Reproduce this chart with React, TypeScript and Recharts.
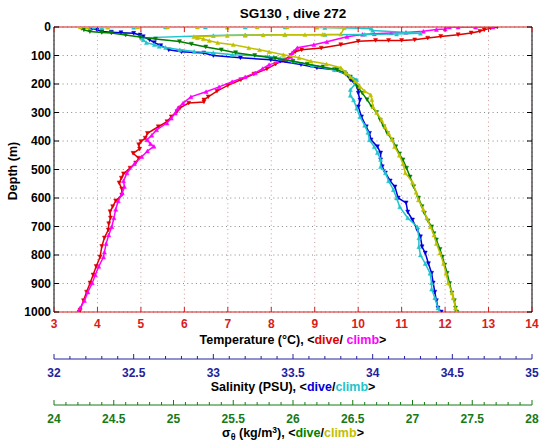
import React from 'react'
import { ScatterChart, Scatter, XAxis, YAxis, CartesianGrid } from 'recharts'

const FONT = '"Liberation Sans", Arial, Helvetica, sans-serif'
const T_AXIS = '#d81c1c'
const S_AXIS = '#22229a'
const G_AXIS = '#177a17'

const C_RED = '#e00000'
const C_MAGENTA = '#ff00ff'
const C_BLUE = '#0000dd'
const C_CYAN = '#22c4cc'
const C_GREEN = '#007f00'
const C_YELLOW = '#c0c000'

// axis ids: bottom axes are stacked outward in id order
const AX_T = 'ax1'
const AX_S = 'ax2'
const AX_G = 'ax3'

const depthTicks = [0, 100, 200, 300, 400, 500, 600, 700, 800, 900, 1000]
const tempTicks = [3, 4, 5, 6, 7, 8, 9, 10, 11, 12, 13, 14]
const salinityTicks = [32, 32.5, 33, 33.5, 34, 34.5, 35]
const sigmaTicks = [24, 24.5, 25, 25.5, 26, 26.5, 27, 27.5, 28]

// [depth m, value]
const tempDive: [number, number][] = [
  [0, 13.2], [4, 13.05], [10, 12.9], [15, 12.8], [21, 12.6], [27, 12.3], [33, 11.9], [39, 11.6],
  [45, 11.3], [47, 11.0], [47, 10.7], [47, 10.4], [50, 10.0], [62, 9.6], [74, 9.15], [80, 8.7],
  [87, 8.55], [100, 8.45], [115, 8.3], [130, 8.1], [147, 7.9], [165, 7.6], [185, 7.3], [205, 7.0],
  [225, 6.75], [245, 6.55], [256, 6.45], [263, 6.45], [267, 6.1], [284, 5.9], [297, 5.83],
  [315, 5.7], [332, 5.6], [350, 5.4], [373, 5.15], [390, 5.1], [402, 5.0], [413, 4.95],
  [428, 4.97], [443, 4.82], [460, 4.95], [477, 4.88], [495, 4.75], [515, 4.6], [530, 4.55],
  [547, 4.5], [568, 4.56], [589, 4.56], [610, 4.42], [630, 4.35], [648, 4.29], [670, 4.3],
  [690, 4.26], [712, 4.25], [740, 4.16], [770, 4.1], [807, 4.06], [840, 3.97], [870, 3.9],
  [898, 3.83], [930, 3.75], [960, 3.68], [993, 3.6], [1000, 3.58],
]

const tempClimb: [number, number][] = [
  [0, 13.1], [0, 12.7], [0, 12.3], [0, 12.1], [7, 12.0], [9, 11.8], [15, 11.5], [19, 11.1],
  [21, 10.76], [24, 10.37], [26, 10.1], [34, 9.74], [52, 9.28], [62, 8.98], [73, 8.6], [90, 8.48],
  [104, 8.45], [118, 8.35], [132, 7.95], [146, 7.8], [161, 7.63], [175, 7.4], [192, 7.1],
  [210, 6.8], [227, 6.5], [245, 6.15], [267, 5.97], [285, 5.85], [302, 5.79], [320, 5.7],
  [337, 5.6], [361, 5.36], [380, 5.25], [396, 5.14], [410, 5.22], [419, 5.3], [435, 5.15],
  [455, 5.02], [480, 4.85], [512, 4.68], [540, 4.6], [560, 4.62], [583, 4.57], [610, 4.48],
  [640, 4.42], [670, 4.38], [701, 4.33], [730, 4.26], [760, 4.2], [790, 4.16], [807, 4.14],
  [840, 4.03], [870, 3.95], [898, 3.88], [930, 3.78], [960, 3.7], [986, 3.6], [1000, 3.56],
]

const salDive: [number, number][] = [
  [0, 32.22], [5, 32.24], [10, 32.27], [16, 32.3], [18, 32.36], [20, 32.42], [22, 32.5],
  [28, 32.54], [34, 32.56], [45, 32.6], [55, 32.63], [65, 32.67], [80, 32.72], [87, 32.8],
  [91, 32.94], [100, 33.0], [108, 33.17], [115, 33.36], [120, 33.42], [132, 33.55], [143, 33.65],
  [150, 33.76], [165, 33.83], [185, 33.86], [200, 33.89], [220, 33.91], [232, 33.91], [256, 33.92],
  [280, 33.91], [315, 33.93], [350, 33.96], [373, 33.98], [396, 33.99], [420, 34.03], [442, 34.05],
  [466, 34.05], [490, 34.06], [512, 34.08], [540, 34.11], [561, 34.14], [600, 34.16], [617, 34.21],
  [649, 34.22], [677, 34.25], [712, 34.28], [736, 34.3], [771, 34.31], [793, 34.33], [830, 34.35],
  [864, 34.37], [898, 34.38], [930, 34.39], [960, 34.4], [986, 34.41], [1000, 34.43],
]

const salClimb: [number, number][] = [
  [1000, 34.42], [986, 34.41], [950, 34.39], [920, 34.37], [898, 34.37], [864, 34.36], [830, 34.33],
  [800, 34.3], [771, 34.29], [740, 34.29], [701, 34.28], [670, 34.22], [631, 34.17], [600, 34.15],
  [571, 34.13], [540, 34.1], [512, 34.08], [490, 34.05], [465, 34.05], [441, 34.03], [420, 34.01],
  [396, 33.98], [370, 33.97], [345, 33.95], [315, 33.92], [285, 33.9], [256, 33.88], [240, 33.86],
  [220, 33.86], [200, 33.89], [185, 33.9], [165, 33.84], [150, 33.76], [135, 33.62], [120, 33.5],
  [110, 33.42], [103, 33.34], [97, 33.12], [90, 33.0], [86, 32.88], [80, 32.79], [72, 32.7],
  [68, 32.66], [62, 32.63], [55, 32.58], [45, 32.56], [38, 32.55],
  [30, 33.0], [28, 33.2], [27, 33.45], [27, 33.7], [26, 33.95], [25, 34.15], [22, 34.3],
  [12, 34.0], [5, 33.99], [2, 33.7], [0, 33.45], [0, 33.2], [0, 32.95], [0, 32.7], [1, 32.5],
  [2, 32.3], [0, 32.25],
]

const sigDive: [number, number][] = [
  [0, 24.22], [5, 24.23], [10, 24.25], [16, 24.3], [19, 24.4], [21, 24.48], [28, 24.6], [35, 24.72],
  [42, 24.85], [51, 25.05], [60, 25.15], [70, 25.27], [80, 25.4], [90, 25.52], [100, 25.68],
  [110, 25.85], [120, 26.0], [130, 26.12], [140, 26.25], [150, 26.37], [160, 26.43], [175, 26.48],
  [190, 26.51], [209, 26.54], [232, 26.58], [255, 26.62], [280, 26.66], [300, 26.7], [326, 26.73],
  [350, 26.76], [373, 26.79], [396, 26.83], [420, 26.86], [445, 26.89], [466, 26.92], [495, 26.95],
  [526, 26.98], [560, 27.01], [600, 27.05], [630, 27.08], [653, 27.1], [680, 27.13], [701, 27.16],
  [725, 27.18], [747, 27.2], [780, 27.23], [807, 27.25], [835, 27.27], [864, 27.29], [900, 27.31],
  [933, 27.33], [960, 27.35], [986, 27.36], [1000, 27.37],
]

const sigClimb: [number, number][] = [
  [1000, 27.37], [986, 27.36], [950, 27.34], [933, 27.33], [898, 27.3], [864, 27.28], [830, 27.26],
  [793, 27.23], [760, 27.2], [730, 27.18], [701, 27.15], [670, 27.12], [640, 27.09], [607, 27.05],
  [580, 27.03], [545, 27.0], [512, 26.94], [480, 26.92], [450, 26.89], [420, 26.85], [395, 26.83],
  [373, 26.8], [350, 26.77], [326, 26.74], [300, 26.7], [280, 26.67], [255, 26.66], [238, 26.65],
  [225, 26.6], [209, 26.56], [190, 26.52], [175, 26.48], [160, 26.44], [143, 26.4], [130, 26.28],
  [120, 26.15], [108, 26.05], [97, 25.92], [87, 25.8], [80, 25.72], [73, 25.63], [62, 25.5],
  [55, 25.37], [48, 25.3], [42, 25.25], [38, 25.2], [34, 25.17],
  [30, 25.45], [29, 25.6], [28, 25.75], [27, 25.93], [27, 26.1], [26, 26.25], [25, 26.4],
  [3, 26.43], [1, 26.2], [0, 25.95], [0, 25.7], [1, 25.45], [0, 25.2], [0, 24.95], [0, 24.7],
  [1, 24.45], [0, 24.28], [0, 24.22],
]

const toPoints = (rows: [number, number][]) => rows.map(([d, v]) => ({ d, v }))

// tick positions every 0.1 between the labelled ones
const withMinor = (major: number[]) => {
  const out: number[] = []
  for (let i = 0; i < major.length - 1; i++) {
    for (let k = 0; k < 5; k++) out.push(+(major[i] + k * 0.1).toFixed(1))
  }
  out.push(major[major.length - 1])
  return out
}

const isMajor = (v: number, major: number[]) => major.some((m) => Math.abs(m - v) < 1e-6)

const txt = { fontFamily: FONT, fontWeight: 'bold' as const }

function BottomTick({ x, y, payload, color, major, labelDy }: any) {
  const big = isMajor(payload.value, major)
  return (
    <g>
      <line x1={x} x2={x} y1={y} y2={y - (big ? 5 : 3)} stroke={color} strokeWidth={1} />
      {big && (
        <text x={x} y={y + labelDy} textAnchor="middle" fill={color} fontSize={12} {...txt}>
          {payload.value}
        </text>
      )}
    </g>
  )
}

function Tri({ cx, cy, color, down }: any) {
  if (cx == null || cy == null) return null
  const w = 2
  const h = 1.9
  const pts = down
    ? `${cx - w},${cy - h} ${cx + w},${cy - h} ${cx},${cy + h}`
    : `${cx - w},${cy + h} ${cx + w},${cy + h} ${cx},${cy - h}`
  return <polygon points={pts} fill={color} stroke={color} strokeWidth={0.5} />
}

const series = [
  { name: 'tdive', axis: AX_T, rows: tempDive, color: C_RED, down: true },
  { name: 'tclimb', axis: AX_T, rows: tempClimb, color: C_MAGENTA, down: false },
  { name: 'sdive', axis: AX_S, rows: salDive, color: C_BLUE, down: true },
  { name: 'sclimb', axis: AX_S, rows: salClimb, color: C_CYAN, down: false },
  { name: 'gdive', axis: AX_G, rows: sigDive, color: C_GREEN, down: true },
  { name: 'gclimb', axis: AX_G, rows: sigClimb, color: C_YELLOW, down: false },
]

export default function App() {
  return (
    <div style={{ position: 'absolute', left: 0, top: 0, background: '#fff' }}>
      <ScatterChart width={543} height={442} margin={{ top: 0, right: 0, bottom: 0, left: 0 }}>
        <CartesianGrid
          xAxisId={AX_T}
          yAxisId="dep"
          horizontal={false}
          stroke="#c99"
          strokeDasharray="1 3.3"
        />
        <CartesianGrid
          xAxisId={AX_T}
          yAxisId="dep"
          vertical={false}
          stroke="#888"
          strokeDasharray="1 3.3"
        />
        <XAxis
          xAxisId="top"
          orientation="top"
          type="number"
          dataKey="v"
          domain={[3, 14]}
          allowDataOverflow
          ticks={tempTicks}
          interval={0}
          height={27}
          tickSize={0}
          tickMargin={0}
          tickLine={false}
          axisLine={{ stroke: T_AXIS }}
          tick={(p: any) => (
            <line x1={p.x} x2={p.x} y1={p.y} y2={p.y + 5} stroke={T_AXIS} />
          )}
          label={{
            content: (p: any) => (
              <text
                x={p.viewBox.x + p.viewBox.width / 2}
                y={p.viewBox.y + 17.5}
                textAnchor="middle"
                fill="#000"
                fontSize={13.5}
                {...txt}
              >
                SG130 , dive 272
              </text>
            ),
          }}
        />
        <XAxis
          xAxisId={AX_T}
          type="number"
          dataKey="v"
          domain={[3, 14]}
          allowDataOverflow
          ticks={tempTicks}
          interval={0}
          height={47}
          tickSize={0}
          tickMargin={0}
          tickLine={false}
          axisLine={{ stroke: T_AXIS }}
          tick={(p: any) => <BottomTick {...p} color={T_AXIS} major={tempTicks} labelDy={16} />}
          label={{
            content: (p: any) => (
              <text
                x={p.viewBox.x + p.viewBox.width / 2}
                y={p.viewBox.y + 31.5}
                textAnchor="middle"
                fill="#000"
                fontSize={12.5}
                {...txt}
              >
                Temperature (°C), &lt;<tspan fill={C_RED}>dive</tspan>/ <tspan fill={C_MAGENTA}>climb</tspan>&gt;
              </text>
            ),
          }}
        />
        <XAxis
          xAxisId={AX_S}
          type="number"
          dataKey="v"
          domain={[32, 35]}
          allowDataOverflow
          ticks={withMinor(salinityTicks)}
          interval={0}
          height={46}
          tickSize={0}
          tickMargin={0}
          tickLine={false}
          axisLine={{ stroke: S_AXIS }}
          tick={(p: any) => <BottomTick {...p} color={S_AXIS} major={salinityTicks} labelDy={17.5} />}
          label={{
            content: (p: any) => (
              <text
                x={p.viewBox.x + p.viewBox.width / 2}
                y={p.viewBox.y + 32}
                textAnchor="middle"
                fill="#000"
                fontSize={12.5}
                {...txt}
              >
                Salinity (PSU), &lt;<tspan fill={C_BLUE}>dive</tspan>/<tspan fill={C_CYAN}>climb</tspan>&gt;
              </text>
            ),
          }}
        />
        <XAxis
          xAxisId={AX_G}
          type="number"
          dataKey="v"
          domain={[24, 28]}
          allowDataOverflow
          ticks={withMinor(sigmaTicks)}
          interval={0}
          height={37}
          tickSize={0}
          tickMargin={0}
          tickLine={false}
          axisLine={{ stroke: G_AXIS }}
          tick={(p: any) => <BottomTick {...p} color={G_AXIS} major={sigmaTicks} labelDy={18} />}
          label={{
            content: (p: any) => (
              <text
                x={p.viewBox.x + p.viewBox.width / 2}
                y={p.viewBox.y + 32}
                textAnchor="middle"
                fill="#000"
                fontSize={12.5}
                {...txt}
              >
                σ<tspan dy={3} fontSize={9}>θ</tspan>
                <tspan dy={-3}> (kg/m</tspan>
                <tspan dy={-4} fontSize={8.5}>3</tspan>
                <tspan dy={4}>), &lt;</tspan>
                <tspan fill={C_GREEN}>dive</tspan>/<tspan fill={C_YELLOW}>climb</tspan>&gt;
              </text>
            ),
          }}
        />
        <YAxis
          yAxisId="dep"
          type="number"
          dataKey="d"
          domain={[0, 1000]}
          allowDataOverflow
          reversed
          ticks={depthTicks}
          interval={0}
          width={54}
          tickSize={0}
          tickMargin={0}
          tickLine={false}
          axisLine={{ stroke: '#000' }}
          tick={(p: any) => (
            <g>
              <line x1={p.x} x2={p.x + 5} y1={p.y} y2={p.y} stroke="#000" />
              <text x={p.x - 3} y={p.y + 4.3} textAnchor="end" fill="#000" fontSize={12} {...txt}>
                {p.payload.value}
              </text>
            </g>
          )}
          label={{
            content: () => (
              <text
                x={16.5}
                y={171}
                transform="rotate(-90, 16.5, 171)"
                textAnchor="middle"
                fill="#000"
                fontSize={12.5}
                {...txt}
              >
                Depth (m)
              </text>
            ),
          }}
        />
        <YAxis
          yAxisId="r"
          orientation="right"
          type="number"
          dataKey="d"
          domain={[0, 1000]}
          allowDataOverflow
          reversed
          ticks={depthTicks}
          interval={0}
          width={11}
          tickSize={0}
          tickMargin={0}
          tickLine={false}
          axisLine={{ stroke: '#000' }}
          tick={(p: any) => <line x1={p.x - 5} x2={p.x} y1={p.y} y2={p.y} stroke="#000" />}
        />
        {series.map((s) => (
          <Scatter
            key={s.name}
            name={s.name}
            data={toPoints(s.rows)}
            xAxisId={s.axis}
            yAxisId="dep"
            fill={s.color}
            line={{ stroke: s.color, strokeWidth: 1.5 }}
            shape={(p: any) => <Tri cx={p.cx} cy={p.cy} color={s.color} down={s.down} />}
            isAnimationActive={false}
          />
        ))}
      </ScatterChart>
    </div>
  )
}
